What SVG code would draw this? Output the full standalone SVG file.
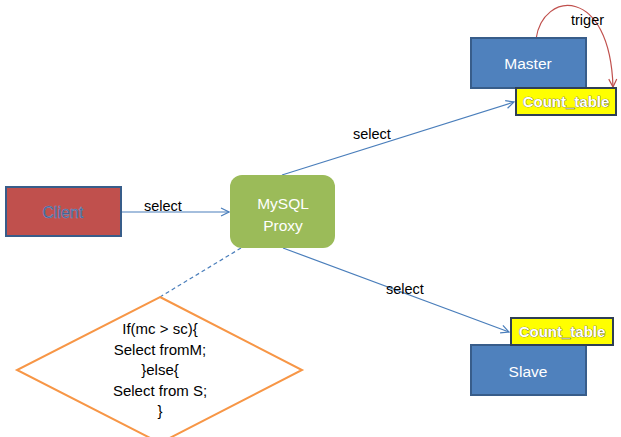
<svg xmlns="http://www.w3.org/2000/svg" width="621" height="437" viewBox="0 0 621 437">
<style>
text{font-family:"Liberation Sans",Arial,sans-serif}
.lbl{font-size:14.5px;fill:#000}
.node{font-size:15.5px;fill:#fff;text-anchor:middle}
.conn{stroke:#4A7EBB;stroke-width:1.2;fill:none}
.ct{font-size:15px;font-weight:bold;fill:#fff;text-anchor:middle;stroke:#555;stroke-width:0.7;paint-order:stroke}
.box{fill:#4F81BD;stroke:#385D8A;stroke-width:2}
.yel{fill:#FFFF00;stroke:#2F3F55;stroke-width:2}
</style>
<defs>
<marker id="arr" markerWidth="10" markerHeight="10" refX="9" refY="5" orient="auto" markerUnits="userSpaceOnUse">
<path d="M1,1 L9,5 L1,9" fill="none" stroke="#4A7EBB" stroke-width="1.2"/>
</marker>
<marker id="arrR" markerWidth="10" markerHeight="10" refX="9" refY="5" orient="auto" markerUnits="userSpaceOnUse">
<path d="M1,1 L9,5 L1,9" fill="none" stroke="#C0504D" stroke-width="1.2"/>
</marker>
</defs>
<rect width="621" height="437" fill="#fff"/>
<g id="connectors">
<line class="conn" x1="121" y1="212" x2="229" y2="212" marker-end="url(#arr)"/>
<line class="conn" x1="282" y1="175" x2="514" y2="102" marker-end="url(#arr)"/>
<line class="conn" x1="283" y1="248" x2="509" y2="332" marker-end="url(#arr)"/>
<line x1="241" y1="248" x2="160" y2="297" stroke="#4A7EBB" stroke-width="1.2" stroke-dasharray="4,3"/>
<path d="M536,39 C543,-10 610,-14 613,87" fill="none" stroke="#C0504D" stroke-width="1.2" marker-end="url(#arrR)"/>
<text class="lbl" x="144" y="211">select</text>
<text class="lbl" x="353" y="139">select</text>
<text class="lbl" x="386" y="294">select</text>
<text class="lbl" x="571" y="25" font-size="15.5">triger</text>
</g>
<g id="client">
<rect x="6" y="187" width="115" height="49" fill="#C0504D" stroke="#385D8A" stroke-width="2"/>
<text x="63" y="218" font-size="16" text-anchor="middle" fill="#2F5487" stroke="#7F9CC8" stroke-width="0.5">Client</text>
</g>
<g id="proxy">
<rect x="230" y="175" width="105" height="73" rx="12" fill="#9BBB59"/>
<text class="node" x="283" y="209" fill="#F4F4F4">MySQL</text>
<text class="node" x="283" y="231" fill="#F4F4F4">Proxy</text>
</g>
<g id="master">
<rect class="box" x="471" y="38" width="115" height="50"/>
<text class="node" x="528" y="69" font-size="16">Master</text>
</g>
<g id="master-count">
<rect class="yel" x="516" y="88" width="100" height="27"/>
<text class="ct" x="566" y="107">Count_table</text>
</g>
<g id="slave">
<rect class="box" x="471" y="345" width="115" height="50"/>
<text class="node" x="528" y="377" font-size="16">Slave</text>
</g>
<g id="slave-count">
<rect class="yel" x="511" y="318" width="102" height="27"/>
<text class="ct" x="562" y="337">Count_table</text>
</g>
<g id="decision">
<polygon points="160,297 302,370 160,443 17,370" fill="#fff" stroke="#F79646" stroke-width="2"/>
<g font-size="15" text-anchor="middle" fill="#000">
<text x="160" y="334">If(mc &gt; sc){</text>
<text x="160" y="355">Select fromM;</text>
<text x="160" y="375">}else{</text>
<text x="160" y="396">Select from S;</text>
<text x="160" y="416">}</text>
</g>
</g>
</svg>
